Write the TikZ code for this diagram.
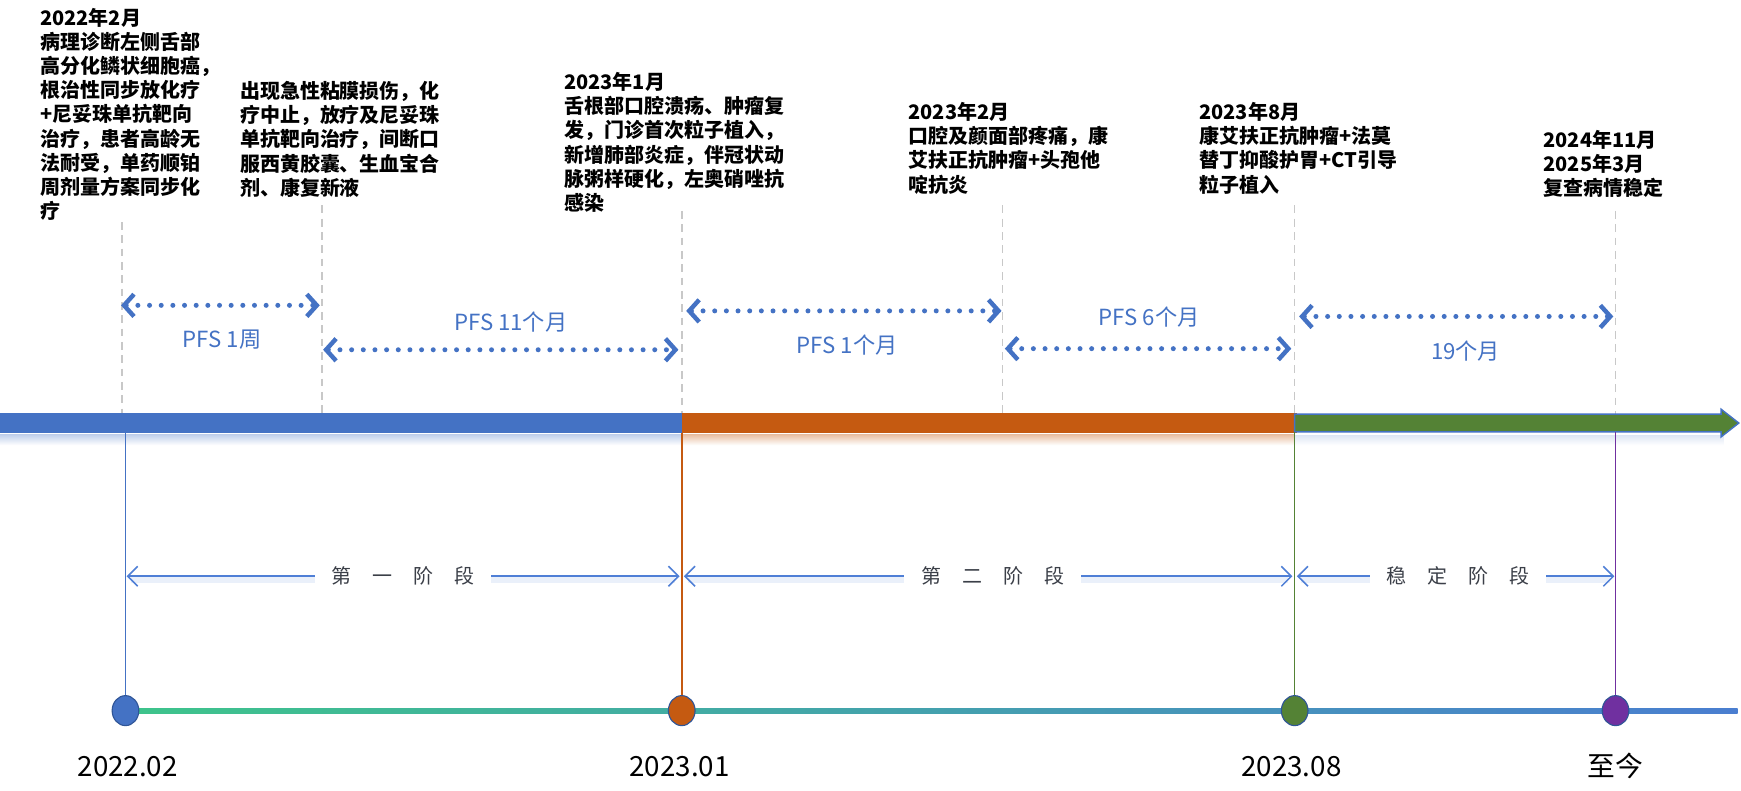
\documentclass[tikz,border=0pt]{standalone}
\usepackage{fontspec}
\setmainfont{Noto Sans CJK SC}
\usetikzlibrary{arrows.meta,shapes.geometric}
\definecolor{blueC}{HTML}{4472C4}
\definecolor{orangeC}{HTML}{C55A11}
\definecolor{greenC}{HTML}{548235}
\definecolor{purpleC}{HTML}{7030A0}
\definecolor{dashgray}{HTML}{C8C8C8}
\definecolor{phaseblue}{HTML}{4F7FD6}
\definecolor{phasetext}{HTML}{3B3F48}
\definecolor{lineL}{HTML}{3EC48B}
\definecolor{lineM}{HTML}{48B3C4}
\definecolor{lineR}{HTML}{4A7ED0}
\definecolor{ringC}{HTML}{2F5597}
\begin{document}
\begin{tikzpicture}[x=1pt,y=-1pt,
  evtxt/.style={anchor=north west, inner sep=0pt, align=left,
    font=\fontsize{18pt}{21.8pt}\selectfont\bfseries, text=black},
  pfs/.style={font=\fontsize{20pt}{24pt}\selectfont, text=blueC, inner sep=0pt},
  guide/.style={draw=dashgray, line width=1.5pt, dash pattern=on 7pt off 5pt},
  dotarrow/.style={draw=blueC, line width=4.5pt, line cap=round,
    dash pattern=on 0pt off 10.5pt,
    {Straight Barb[length=9pt,width=20pt,line width=4pt]}-{Straight Barb[length=9pt,width=20pt,line width=4pt]}},
  stem/.style={line width=1.4pt},
  phase/.style={draw=phaseblue, line width=1.4pt,
    {Straight Barb[length=9pt,width=18pt,line width=1.4pt]}-{Straight Barb[length=9pt,width=18pt,line width=1.4pt]}},
  glow/.style={draw=phaseblue!12, line width=7pt},
  phaselbl/.style={fill=white, inner xsep=15pt, inner ysep=4pt,
    font=\fontsize{18pt}{22pt}\selectfont, text=phasetext},
  dot/.style={ellipse, minimum width=24pt, minimum height=27pt, inner sep=0pt, draw=ringC, line width=1pt},
  datelbl/.style={font=\fontsize{25pt}{28pt}\selectfont, text=black, inner sep=0pt}
]
\useasboundingbox (0,0) rectangle (1568,712);
\fill[white] (0,0) rectangle (1568,712);

% event texts
\node[evtxt] (t1) at (36,7) {2022年2月\\病理诊断左侧舌部\\高分化鳞状细胞癌，\\根治性同步放化疗\\+尼妥珠单抗靶向\\治疗，患者高龄无\\法耐受，单药顺铂\\周剂量方案同步化\\疗};
\node[evtxt] (t2) at (216,73) {出现急性粘膜损伤，化\\疗中止，放疗及尼妥珠\\单抗靶向治疗，间断口\\服西黄胶囊、生血宝合\\剂、康复新液};
\node[evtxt] (t3) at (508,65) {2023年1月\\舌根部口腔溃疡、肿瘤复\\发，门诊首次粒子植入，\\新增肺部炎症，伴冠状动\\脉粥样硬化，左奥硝唑抗\\感染};
\node[evtxt] (t4) at (818,92) {2023年2月\\口腔及颜面部疼痛，康\\艾扶正抗肿瘤+头孢他\\啶抗炎};
\node[evtxt] (t5) at (1080,92) {2023年8月\\康艾扶正抗肿瘤+法莫\\替丁抑酸护胃+CT引导\\粒子植入};
\node[evtxt] (t6) at (1390,117) {2024年11月\\2025年3月\\复查病情稳定};

% guide coordinates
\coordinate (g1a) at (110,200); \coordinate (g1b) at (110,378);
\coordinate (g2a) at (290,185); \coordinate (g2b) at (290,378);
\coordinate (g3a) at (614,190); \coordinate (g3b) at (614,378);
\coordinate (g4a) at (903,185); \coordinate (g4b) at (903,378);
\coordinate (g5a) at (1166,185); \coordinate (g5b) at (1166,378);
\coordinate (g6a) at (1455,190); \coordinate (g6b) at (1455,378);
\foreach \i in {1,...,6} {\draw[guide] (g\i a) -- (g\i b);}

% dotted PFS arrows
\coordinate (a1l) at (109,275); \coordinate (a1r) at (288,275);
\coordinate (a2l) at (291,315); \coordinate (a2r) at (611,315);
\coordinate (a3l) at (618,280); \coordinate (a3r) at (902,280);
\coordinate (a4l) at (905,314); \coordinate (a4r) at (1163,314);
\coordinate (a5l) at (1170,285); \coordinate (a5r) at (1453,285);
\foreach \i in {1,...,5} {\draw[dotarrow] (a\i l) -- (a\i r);}
\node[pfs] (l1) at (200,306) {PFS 1周};
\node[pfs] (l2) at (460,290) {PFS 11个月};
\node[pfs] (l3) at (763,311) {PFS 1个月};
\node[pfs] (l4) at (1035,286) {PFS 6个月};
\node[pfs] (l5) at (1320,316) {19个月};

% main bar shadows
\shade[top color=blueC!35, bottom color=white] (0,391) rectangle (614,401);
\shade[top color=orangeC!40, bottom color=white] (614,391) rectangle (1166,401);
\shade[top color=blueC!18, bottom color=white] (1166,392) rectangle (1552,401);

% main bar
\fill[blueC] (0,372) rectangle (614,390) coordinate (barB);
\fill[orangeC] (614,372) rectangle (1168,390) coordinate (barO);
\draw[blueC, line width=1.3pt, fill=greenC]
  (1166,373) -- (1550,373) -- (1550,368.5) -- (1566,381) -- (1550,393.5) -- (1550,389) -- (1166,389) -- cycle;
\coordinate (s1) at (113,390);
\coordinate (s2) at (614,390);
\coordinate (s3) at (1166,389);
\coordinate (s4) at (1455,389);

% bottom gradient line
\shade[left color=lineL, middle color=lineM, right color=lineR] (113,638) rectangle (1565,642.5);

% milestone dots
\node[dot, fill=blueC] (c1) at (113,640) {};
\node[dot, fill=orangeC] (c2) at (614,640) {};
\node[dot, fill=greenC] (c3) at (1166,640) {};
\node[dot, fill=purpleC] (c4) at (1455,640) {};

% stems
\draw[stem, blueC] (s1) -- (c1.north);
\draw[stem, orangeC] (s2) -- (c2.north);
\draw[stem, greenC] (s3) -- (c3.north);
\draw[stem, purpleC] (s4) -- (c4.north);

% phase arrows
\coordinate (p1l) at (114,519); \coordinate (p1r) at (612,519);
\coordinate (p2l) at (616,519); \coordinate (p2r) at (1164,519);
\coordinate (p3l) at (1168,519); \coordinate (p3r) at (1454,519);
\foreach \i in {1,2,3} {\draw[glow] ([xshift=4pt,yshift=-3pt]p\i l) -- ([xshift=-4pt,yshift=-3pt]p\i r);}
\draw[phase] (p1l) -- node[phaselbl] (ph1) {第\hspace{19pt}一\hspace{19pt}阶\hspace{19pt}段} (p1r);
\draw[phase] (p2l) -- node[phaselbl, xshift=4pt] (ph2) {第\hspace{19pt}二\hspace{19pt}阶\hspace{19pt}段} (p2r);
\draw[phase] (p3l) -- node[phaselbl, xshift=2pt] (ph3) {稳\hspace{19pt}定\hspace{19pt}阶\hspace{19pt}段} (p3r);

% date labels
\node[datelbl] (d1) at (115,690) {2022.02};
\node[datelbl] (d2) at (612,690) {2023.01};
\node[datelbl] (d3) at (1163,690) {2023.08};
\node[datelbl] (d4) at (1455,690) {至今};
\end{tikzpicture}
\end{document}
